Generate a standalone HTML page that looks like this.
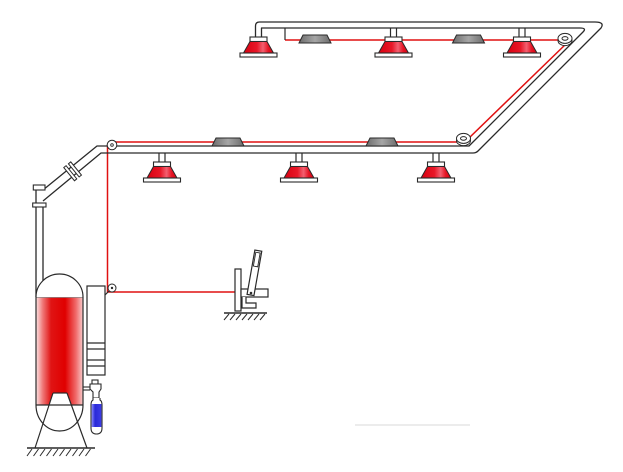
<!DOCTYPE html>
<html><head><meta charset="utf-8"><style>
html,body{margin:0;padding:0;background:#fff;}
svg{display:block;}
</style></head><body>
<svg width="623" height="472" viewBox="0 0 623 472" xmlns="http://www.w3.org/2000/svg">
<defs>
<linearGradient id="tank" x1="0" x2="1" y1="0" y2="0">
<stop offset="0" stop-color="#fbe4e4"/><stop offset="0.14" stop-color="#f07a7a"/>
<stop offset="0.32" stop-color="#e01414"/><stop offset="0.62" stop-color="#e00000"/>
<stop offset="0.85" stop-color="#f06a6a"/><stop offset="1" stop-color="#f8cccc"/>
</linearGradient>
<linearGradient id="noz" x1="0" x2="1" y1="0" y2="0">
<stop offset="0" stop-color="#d80010"/><stop offset="0.45" stop-color="#e81828"/>
<stop offset="0.65" stop-color="#f26070"/><stop offset="0.82" stop-color="#e61626"/>
<stop offset="1" stop-color="#d40010"/>
</linearGradient>
<linearGradient id="det" x1="0" x2="1" y1="0" y2="0">
<stop offset="0" stop-color="#6c6c6c"/><stop offset="0.5" stop-color="#a6a6a6"/><stop offset="1" stop-color="#6c6c6c"/>
</linearGradient>
<linearGradient id="blue" x1="0" x2="1" y1="0" y2="0">
<stop offset="0" stop-color="#8a8aff"/><stop offset="0.35" stop-color="#2a2ad8"/><stop offset="1" stop-color="#3c3ce6"/>
</linearGradient>
<g id="nozzle">
<rect x="-8.5" y="0" width="17" height="4.5" fill="#fff" stroke="#2a2a2a" stroke-width="1.1"/>
<polygon points="-8.5,4.5 8.5,4.5 15,16 -15,16" fill="url(#noz)" stroke="#2a2a2a" stroke-width="1"/>
<rect x="-18.5" y="16" width="37" height="4" fill="#fff" stroke="#2a2a2a" stroke-width="1.1"/>
</g>
<g id="detector">
<polygon points="-16,0 16,0 12,-8 -12,-8" fill="url(#det)" stroke="#2a2a2a" stroke-width="1"/>
</g>
<g id="ring">
<ellipse cx="0" cy="1.6" rx="7" ry="5" fill="#fff" stroke="#2a2a2a" stroke-width="1"/>
<ellipse cx="0" cy="-0.6" rx="7" ry="5" fill="#fff" stroke="#2a2a2a" stroke-width="1"/>
<ellipse cx="0" cy="-0.6" rx="3" ry="1.8" fill="none" stroke="#2a2a2a" stroke-width="1"/>
</g>
</defs>

<!-- faint artifact line -->
<line x1="355" y1="425" x2="470" y2="425" stroke="#ececec" stroke-width="2"/>

<!-- red wires -->
<g stroke="#e01010" stroke-width="1.5" fill="none">
<line x1="285" y1="40" x2="559" y2="40"/>
<line x1="568" y1="42" x2="469" y2="138"/>
<line x1="457" y1="142" x2="112" y2="142"/>
<polyline points="107.5,145 107.5,292 235,292"/>
</g>
<line x1="285" y1="28" x2="285" y2="40" stroke="#2a2a2a" stroke-width="1.2"/>

<!-- pipes -->
<g stroke="#2a2a2a" stroke-width="1.3" fill="none" stroke-linejoin="round">
<path d="M255.5 37 L255.5 26 Q255.5 22 259.5 22 L595 22 Q605 22 601 28 L478 151 Q476 153 473 153 L101 153 L43 201"/>
<path d="M261.5 37 L261.5 28 L580 28 Q587 28 583 32 L469 146 L97 146 L43 190"/>
<line x1="36" y1="190" x2="36" y2="297"/>
<line x1="43" y1="207" x2="43" y2="281"/>
</g>

<!-- stems -->
<g stroke="#2a2a2a" stroke-width="1.2">
<line x1="390.5" y1="28" x2="390.5" y2="37"/><line x1="396.5" y1="28" x2="396.5" y2="37"/>
<line x1="519" y1="28" x2="519" y2="37"/><line x1="525" y1="28" x2="525" y2="37"/>
<line x1="159" y1="153" x2="159" y2="162"/><line x1="165" y1="153" x2="165" y2="162"/>
<line x1="296" y1="153" x2="296" y2="162"/><line x1="302" y1="153" x2="302" y2="162"/>
<line x1="433" y1="153" x2="433" y2="162"/><line x1="439" y1="153" x2="439" y2="162"/>
</g>

<!-- nozzles -->
<use href="#nozzle" x="258.5" y="37"/>
<use href="#nozzle" x="393.5" y="37"/>
<use href="#nozzle" x="522" y="37"/>
<use href="#nozzle" x="162" y="162"/>
<use href="#nozzle" x="299" y="162"/>
<use href="#nozzle" x="436" y="162"/>

<!-- detectors -->
<use href="#detector" x="315" y="43"/>
<use href="#detector" x="468.5" y="43"/>
<use href="#detector" x="228" y="146"/>
<use href="#detector" x="382" y="146"/>

<!-- rings -->
<use href="#ring" x="565" y="39"/>
<use href="#ring" x="463.5" y="139"/>
<circle cx="112" cy="145" r="4.8" fill="#fff" stroke="#2a2a2a" stroke-width="1"/>
<circle cx="112" cy="145" r="1.3" fill="none" stroke="#2a2a2a" stroke-width="0.9"/>

<!-- top cap, band, flange -->
<rect x="33.3" y="185" width="11.7" height="5" fill="#fff" stroke="#2a2a2a" stroke-width="1.1"/>
<rect x="32.7" y="203" width="13.3" height="4" fill="#fff" stroke="#2a2a2a" stroke-width="1.1"/>
<g transform="translate(73,171) rotate(-39)">
<rect x="-5" y="-8.5" width="3" height="17" fill="#fff" stroke="#2a2a2a" stroke-width="1"/>
<rect x="1" y="-8.5" width="3" height="17" fill="#fff" stroke="#2a2a2a" stroke-width="1"/>
</g>

<!-- tank -->
<rect x="36" y="297" width="47" height="108" fill="url(#tank)"/>
<polygon points="53,393 67,393 71.4,405 49.1,405" fill="#fff"/>
<g stroke="#2a2a2a" stroke-width="1.2" fill="none">
<path d="M36 297 A23.5 23 0 0 1 83 297" fill="#fff"/>
<line x1="36" y1="297.5" x2="83" y2="297.5" stroke="#888" stroke-width="0.8"/>
<line x1="36" y1="297" x2="36" y2="405"/>
<line x1="83" y1="297" x2="83" y2="405"/>
<line x1="36" y1="405" x2="83" y2="405"/>
<path d="M36 405 A23.5 26 0 0 0 83 405"/>
<line x1="53" y1="393" x2="67" y2="393"/>
<line x1="53" y1="393" x2="35" y2="448"/>
<line x1="67" y1="393" x2="87" y2="448"/>
<line x1="27" y1="448" x2="95" y2="448" stroke-width="1.4"/>
</g>
<g stroke="#2a2a2a" stroke-width="1">
<line x1="32" y1="449" x2="27" y2="456"/><line x1="38.5" y1="449" x2="33.5" y2="456"/>
<line x1="45" y1="449" x2="40" y2="456"/><line x1="51.5" y1="449" x2="46.5" y2="456"/>
<line x1="58" y1="449" x2="53" y2="456"/><line x1="64.5" y1="449" x2="59.5" y2="456"/>
<line x1="71" y1="449" x2="66" y2="456"/><line x1="77.5" y1="449" x2="72.5" y2="456"/>
<line x1="84" y1="449" x2="79" y2="456"/><line x1="90.5" y1="449" x2="85.5" y2="456"/>
</g>

<!-- actuator column -->
<g stroke="#2a2a2a" stroke-width="1.2" fill="none">
<rect x="87" y="286" width="18" height="89" fill="#fff"/>
<line x1="87" y1="343" x2="105" y2="343"/>
<line x1="87" y1="349" x2="105" y2="349"/>
<line x1="87" y1="360" x2="105" y2="360"/>
<line x1="87" y1="366" x2="105" y2="366"/>
<line x1="109" y1="291" x2="105" y2="295"/>
</g>
<circle cx="112" cy="288" r="4" fill="#fff" stroke="#2a2a2a" stroke-width="1"/>
<circle cx="112" cy="288" r="1.2" fill="#2a2a2a"/>

<!-- small cylinder -->
<g stroke="#2a2a2a" stroke-width="1.1">
<line x1="83" y1="387" x2="90" y2="387"/><line x1="83" y1="390" x2="90" y2="390"/>
<rect x="92" y="380" width="6" height="4" fill="#fff"/>
<polygon points="90,384 101,384 101,389 99,392 99,398 93,398 93,392 90,389" fill="#fff"/>
<path d="M93 398 L93 400 Q91 401 91 405 L91 428 Q91 434 96.5 434 Q102 434 102 428 L102 405 Q102 401 100 400 L100 398" fill="#fff"/>
</g>
<rect x="91.6" y="404" width="9.8" height="23" fill="url(#blue)"/>

<!-- manual lever -->
<g stroke="#2a2a2a" stroke-width="1.2" fill="#fff">
<rect x="235" y="269" width="6" height="42"/>
<rect x="241" y="289" width="27" height="8"/>
<path d="M242 297 L242 308 L256 308 L256 303 L246 303 L246 297"/>
<g transform="rotate(10 250.5 295)">
<rect x="247" y="250" width="7" height="45"/>
<rect x="248.3" y="252" width="4.4" height="14" fill="none" stroke-width="0.9"/>
</g>
</g>
<circle cx="251" cy="293" r="1.3" fill="#2a2a2a"/>
<line x1="224" y1="313" x2="267" y2="313" stroke="#2a2a2a" stroke-width="1.4"/>
<g stroke="#2a2a2a" stroke-width="1">
<line x1="229" y1="314" x2="224" y2="320"/><line x1="235" y1="314" x2="230" y2="320"/>
<line x1="241" y1="314" x2="236" y2="320"/><line x1="247" y1="314" x2="242" y2="320"/>
<line x1="253" y1="314" x2="248" y2="320"/><line x1="259" y1="314" x2="254" y2="320"/>
<line x1="265" y1="314" x2="260" y2="320"/>
</g>
</svg>
</body></html>
